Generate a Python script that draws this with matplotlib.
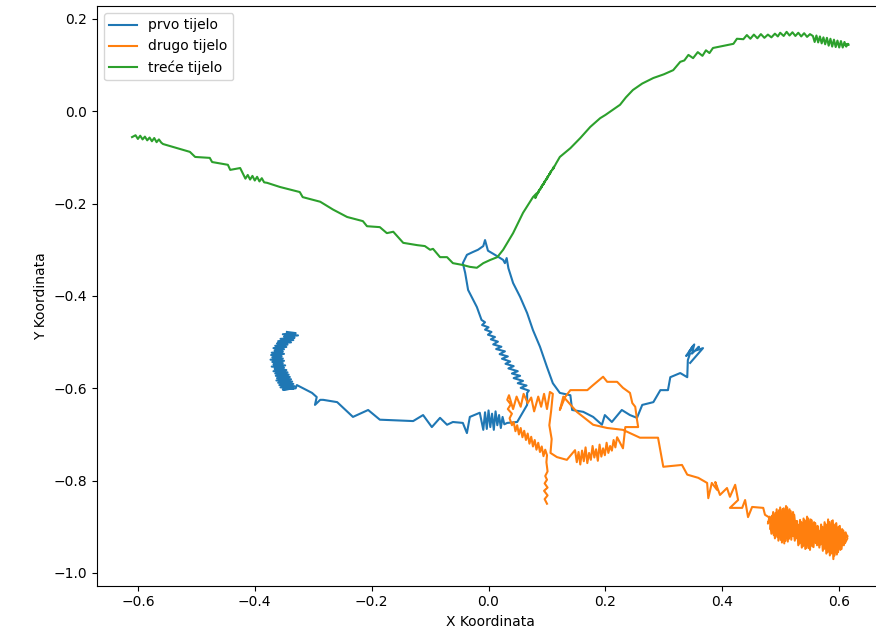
import matplotlib
matplotlib.use("Agg")
import matplotlib.pyplot as plt

# putanje tri tijela kao (x, y), ocitano sa slike
prvo_tijelo = [
    # nakupina lijevo (oblik slova C)
    (-0.345, -0.478), (-0.330, -0.4805), (-0.352, -0.483), (-0.326, -0.4855), (-0.350, -0.488),
    (-0.332, -0.4905), (-0.356, -0.493), (-0.334, -0.4955), (-0.360, -0.498), (-0.338, -0.5005),
    (-0.362, -0.503), (-0.344, -0.5055), (-0.365, -0.508), (-0.346, -0.5105), (-0.368, -0.513),
    (-0.350, -0.5155), (-0.366, -0.518), (-0.352, -0.5205), (-0.371, -0.523), (-0.350, -0.5255),
    (-0.372, -0.528), (-0.354, -0.5305), (-0.370, -0.533), (-0.352, -0.5355), (-0.373, -0.538),
    (-0.350, -0.5405), (-0.370, -0.543), (-0.352, -0.5455), (-0.368, -0.548), (-0.348, -0.5505),
    (-0.371, -0.553), (-0.350, -0.5555), (-0.366, -0.558), (-0.346, -0.5605), (-0.368, -0.563),
    (-0.344, -0.5655), (-0.365, -0.568), (-0.342, -0.5705), (-0.364, -0.573), (-0.340, -0.5755),
    (-0.362, -0.578), (-0.338, -0.5805), (-0.363, -0.583), (-0.336, -0.5855), (-0.360, -0.588),
    (-0.334, -0.5905), (-0.358, -0.593), (-0.332, -0.5955), (-0.356, -0.598), (-0.334, -0.6005),
    (-0.352, -0.603), (-0.330, -0.600),
    # prema desno
    (-0.328, -0.593), (-0.302, -0.610), (-0.294, -0.619), (-0.297, -0.636), (-0.288, -0.625),
    (-0.283, -0.625), (-0.259, -0.630), (-0.232, -0.662), (-0.206, -0.647), (-0.186, -0.668),
    (-0.129, -0.671), (-0.112, -0.658), (-0.097, -0.684), (-0.083, -0.664), (-0.071, -0.679),
    (-0.061, -0.673), (-0.044, -0.675), (-0.037, -0.697), (-0.032, -0.662), (-0.015, -0.653),
    (-0.009, -0.690), (-0.006, -0.652), (-0.003, -0.688), (0.000, -0.648), (0.003, -0.684),
    (0.006, -0.655), (0.009, -0.690), (0.012, -0.650), (0.015, -0.680), (0.018, -0.658),
    (0.021, -0.686), (0.024, -0.662), (0.027, -0.678), (0.032, -0.675), (0.049, -0.673),
    (0.066, -0.636),
    # uspon gore
    (0.066, -0.610), (0.069, -0.605), (0.055, -0.599), (0.065, -0.594), (0.050, -0.589),
    (0.059, -0.584), (0.043, -0.578), (0.054, -0.573), (0.040, -0.568), (0.050, -0.563),
    (0.034, -0.557), (0.043, -0.552), (0.029, -0.547), (0.037, -0.542), (0.023, -0.536),
    (0.033, -0.531), (0.019, -0.526), (0.028, -0.520), (0.013, -0.515), (0.022, -0.510),
    (0.008, -0.505), (0.016, -0.499), (0.004, -0.494), (0.011, -0.489), (-0.001, -0.484),
    (0.005, -0.478), (-0.006, -0.473), (0.000, -0.468), (-0.011, -0.463), (-0.006, -0.457),
    (-0.012, -0.452), (-0.020, -0.424), (-0.035, -0.387), (-0.040, -0.350), (-0.044, -0.329),
    # petlja na vrhu i silazak
    (-0.037, -0.311), (-0.027, -0.305), (-0.018, -0.300), (-0.009, -0.292), (-0.006, -0.279),
    (-0.001, -0.302), (0.011, -0.311), (0.025, -0.322), (0.028, -0.329), (0.031, -0.318),
    (0.034, -0.340), (0.042, -0.372), (0.054, -0.402), (0.066, -0.437), (0.076, -0.474),
    (0.088, -0.510), (0.100, -0.554), (0.110, -0.589), (0.122, -0.610), (0.140, -0.615),
    (0.143, -0.647), (0.162, -0.651), (0.179, -0.662), (0.194, -0.679), (0.199, -0.658),
    (0.211, -0.673), (0.228, -0.647), (0.242, -0.658), (0.254, -0.664), (0.263, -0.636),
    (0.282, -0.630), (0.294, -0.604), (0.307, -0.604), (0.311, -0.576), (0.328, -0.567),
    (0.340, -0.576), (0.341, -0.539), (0.345, -0.524), (0.338, -0.530), (0.350, -0.508),
    (0.344, -0.520), (0.352, -0.505), (0.348, -0.525), (0.360, -0.510), (0.355, -0.518),
    (0.367, -0.513), (0.345, -0.545),
]

drugo_tijelo = [
    # rep dolje
    (0.100, -0.850), (0.096, -0.840), (0.101, -0.832), (0.095, -0.822), (0.101, -0.815),
    (0.096, -0.806), (0.100, -0.798), (0.097, -0.790), (0.101, -0.780), (0.099, -0.760),
    (0.100, -0.745),
    # gusti pojas lijevo
    (0.097, -0.733), (0.094, -0.747), (0.091, -0.726), (0.088, -0.738), (0.085, -0.718),
    (0.082, -0.733), (0.079, -0.712), (0.076, -0.726), (0.073, -0.705), (0.070, -0.720),
    (0.067, -0.698), (0.064, -0.712), (0.061, -0.692), (0.058, -0.706), (0.055, -0.686),
    (0.052, -0.700), (0.049, -0.680), (0.046, -0.693), (0.043, -0.673), (0.040, -0.680),
    (0.036, -0.665), (0.040, -0.655), (0.033, -0.645), (0.038, -0.635), (0.032, -0.625),
    (0.035, -0.615),
    # gornji cik-cak
    (0.042, -0.645), (0.048, -0.618), (0.055, -0.640), (0.060, -0.612), (0.067, -0.632),
    (0.073, -0.620), (0.078, -0.650), (0.085, -0.618), (0.090, -0.640), (0.095, -0.612),
    (0.100, -0.645), (0.105, -0.608), (0.110, -0.612),
    # okomito dolje pa donji cik-cak
    (0.107, -0.650), (0.104, -0.680), (0.108, -0.710), (0.106, -0.740), (0.117, -0.749),
    (0.134, -0.755), (0.148, -0.734), (0.151, -0.760), (0.154, -0.738), (0.157, -0.765),
    (0.160, -0.735), (0.163, -0.758), (0.166, -0.728), (0.169, -0.762), (0.172, -0.740),
    (0.175, -0.755), (0.178, -0.725), (0.181, -0.750), (0.184, -0.732), (0.187, -0.757),
    (0.190, -0.722), (0.193, -0.748), (0.196, -0.730), (0.199, -0.745), (0.202, -0.718),
    (0.205, -0.740), (0.208, -0.725), (0.211, -0.735), (0.214, -0.712), (0.217, -0.728),
    (0.220, -0.706), (0.230, -0.730), (0.234, -0.684), (0.256, -0.684),
    # desna strana gore, pa lijevo
    (0.254, -0.668), (0.251, -0.640), (0.246, -0.632), (0.242, -0.610), (0.230, -0.599),
    (0.220, -0.586), (0.203, -0.586), (0.196, -0.575), (0.179, -0.593), (0.169, -0.604),
    (0.140, -0.604), (0.131, -0.619), (0.122, -0.647), (0.128, -0.618),
    # izlaz prema dolje desno
    (0.151, -0.651), (0.179, -0.679), (0.203, -0.686), (0.230, -0.690), (0.259, -0.707),
    (0.290, -0.707), (0.299, -0.770), (0.331, -0.766), (0.340, -0.787), (0.359, -0.794),
    (0.374, -0.805), (0.376, -0.838), (0.382, -0.805), (0.391, -0.820), (0.388, -0.803),
    (0.396, -0.831), (0.408, -0.816), (0.413, -0.835), (0.422, -0.809), (0.427, -0.842),
    (0.413, -0.859), (0.434, -0.859), (0.439, -0.842), (0.444, -0.879), (0.451, -0.857),
    (0.470, -0.859), (0.473, -0.874), (0.482, -0.881),
    # prva nakupina
    (0.478, -0.893), (0.481, -0.878), (0.484, -0.915), (0.487, -0.868), (0.490, -0.925),
    (0.493, -0.862), (0.496, -0.930), (0.499, -0.858), (0.502, -0.934), (0.505, -0.860),
    (0.508, -0.930), (0.511, -0.858), (0.514, -0.926), (0.517, -0.866), (0.520, -0.920),
    (0.523, -0.874), (0.526, -0.910), (0.528, -0.888), (0.524, -0.900), (0.521, -0.868),
    (0.518, -0.928), (0.515, -0.862), (0.512, -0.932), (0.509, -0.855), (0.506, -0.936),
    (0.503, -0.862), (0.500, -0.928), (0.497, -0.864), (0.494, -0.922), (0.491, -0.870),
    (0.488, -0.918), (0.485, -0.876), (0.482, -0.905), (0.500, -0.900), (0.515, -0.905),
    # druga nakupina
    (0.518, -0.912), (0.521, -0.895), (0.524, -0.930), (0.527, -0.888), (0.530, -0.940),
    (0.533, -0.885), (0.536, -0.945), (0.539, -0.882), (0.542, -0.948), (0.545, -0.878),
    (0.548, -0.946), (0.551, -0.884), (0.554, -0.942), (0.557, -0.890), (0.560, -0.935),
    (0.563, -0.898), (0.566, -0.925), (0.562, -0.940), (0.559, -0.892), (0.556, -0.944),
    (0.553, -0.886), (0.550, -0.950), (0.547, -0.882), (0.544, -0.946), (0.541, -0.886),
    (0.538, -0.942), (0.535, -0.890), (0.532, -0.936), (0.529, -0.895), (0.526, -0.925),
    (0.523, -0.905),
    # treca nakupina
    (0.560, -0.920), (0.563, -0.900), (0.566, -0.945), (0.569, -0.895), (0.572, -0.952),
    (0.575, -0.890), (0.578, -0.958), (0.581, -0.884), (0.584, -0.962), (0.587, -0.888),
    (0.590, -0.970), (0.593, -0.895), (0.596, -0.960), (0.599, -0.900), (0.602, -0.950),
    (0.605, -0.905), (0.608, -0.940), (0.611, -0.912), (0.614, -0.925), (0.610, -0.935),
    (0.607, -0.908), (0.604, -0.948), (0.601, -0.898), (0.598, -0.955), (0.595, -0.892),
    (0.592, -0.962), (0.589, -0.886), (0.586, -0.958), (0.583, -0.890), (0.580, -0.955),
    (0.577, -0.895), (0.574, -0.948), (0.571, -0.900), (0.568, -0.938), (0.565, -0.910),
    (0.580, -0.925), (0.595, -0.930), (0.614, -0.920),
]

trece_tijelo = [
    (-0.610, -0.056), (-0.604, -0.052), (-0.600, -0.060), (-0.596, -0.053), (-0.592, -0.061),
    (-0.588, -0.055), (-0.584, -0.063), (-0.580, -0.057), (-0.576, -0.065), (-0.572, -0.058),
    (-0.568, -0.067), (-0.564, -0.061), (-0.560, -0.068), (-0.557, -0.071), (-0.511, -0.088),
    (-0.502, -0.099), (-0.477, -0.101), (-0.473, -0.110), (-0.446, -0.116), (-0.442, -0.127),
    (-0.425, -0.123), (-0.420, -0.136), (-0.416, -0.146), (-0.412, -0.138), (-0.408, -0.148),
    (-0.404, -0.140), (-0.400, -0.150), (-0.396, -0.142), (-0.392, -0.152), (-0.388, -0.145),
    (-0.384, -0.154), (-0.379, -0.155), (-0.357, -0.164), (-0.323, -0.175), (-0.318, -0.186),
    (-0.288, -0.196), (-0.266, -0.213), (-0.242, -0.229), (-0.215, -0.238), (-0.208, -0.249),
    (-0.186, -0.251), (-0.174, -0.264), (-0.163, -0.261), (-0.146, -0.285), (-0.122, -0.290),
    (-0.109, -0.292), (-0.100, -0.300), (-0.095, -0.298), (-0.083, -0.316), (-0.071, -0.316),
    (-0.061, -0.329), (-0.044, -0.333), (-0.032, -0.337), (-0.020, -0.339), (-0.009, -0.329),
    (0.003, -0.322), (0.015, -0.316), (0.025, -0.300), (0.042, -0.264), (0.059, -0.220),
    (0.076, -0.186), (0.082, -0.178), (0.080, -0.188), (0.087, -0.170), (0.084, -0.178),
    (0.092, -0.160), (0.089, -0.168), (0.097, -0.150), (0.094, -0.158), (0.102, -0.140),
    (0.099, -0.148), (0.107, -0.130), (0.104, -0.137), (0.112, -0.120), (0.110, -0.126),
    (0.116, -0.112), (0.122, -0.099), (0.140, -0.080), (0.157, -0.058), (0.174, -0.034),
    (0.191, -0.015), (0.200, -0.008), (0.225, 0.014), (0.235, 0.030), (0.247, 0.046),
    (0.263, 0.060), (0.282, 0.072), (0.300, 0.080), (0.316, 0.089), (0.328, 0.107),
    (0.335, 0.110), (0.342, 0.122), (0.350, 0.115), (0.358, 0.128), (0.366, 0.120),
    (0.372, 0.132), (0.378, 0.126), (0.384, 0.137), (0.419, 0.146), (0.425, 0.157),
    (0.436, 0.156), (0.442, 0.165), (0.448, 0.157), (0.454, 0.166), (0.460, 0.158),
    (0.466, 0.167), (0.472, 0.159), (0.478, 0.166), (0.484, 0.160), (0.490, 0.168),
    (0.495, 0.162), (0.499, 0.170), (0.505, 0.163), (0.510, 0.172), (0.515, 0.164),
    (0.520, 0.171), (0.525, 0.163), (0.530, 0.170), (0.535, 0.162), (0.540, 0.169),
    (0.545, 0.161), (0.550, 0.167), (0.555, 0.163), (0.558, 0.150), (0.561, 0.164),
    (0.564, 0.149), (0.567, 0.162), (0.570, 0.147), (0.573, 0.160), (0.576, 0.145),
    (0.579, 0.159), (0.582, 0.142), (0.585, 0.157), (0.588, 0.140), (0.591, 0.155),
    (0.594, 0.139), (0.597, 0.153), (0.600, 0.138), (0.603, 0.152), (0.606, 0.138),
    (0.609, 0.150), (0.612, 0.140), (0.615, 0.146), (0.610, 0.143), (0.616, 0.144),
]

labels = ['prvo tijelo', 'drugo tijelo', 'treće tijelo']

fig = plt.figure(figsize=(8.76, 6.41), dpi=100)
ax = fig.add_axes([0.1107, 0.0863, 0.898, 0.9044])

for putanja, label in zip([prvo_tijelo, drugo_tijelo, trece_tijelo], labels):
    xs, ys = zip(*putanja)
    ax.plot(xs, ys, label=label)

ax.set_xlim(-0.670, 0.676)
ax.set_ylim(-1.0275, 0.228)
ax.spines['right'].set_visible(False)
ax.set_xlabel('X Koordinata')
ax.set_ylabel('Y Koordinata')
ax.legend(loc='upper left')

fig.savefig("out.png", dpi=100)
